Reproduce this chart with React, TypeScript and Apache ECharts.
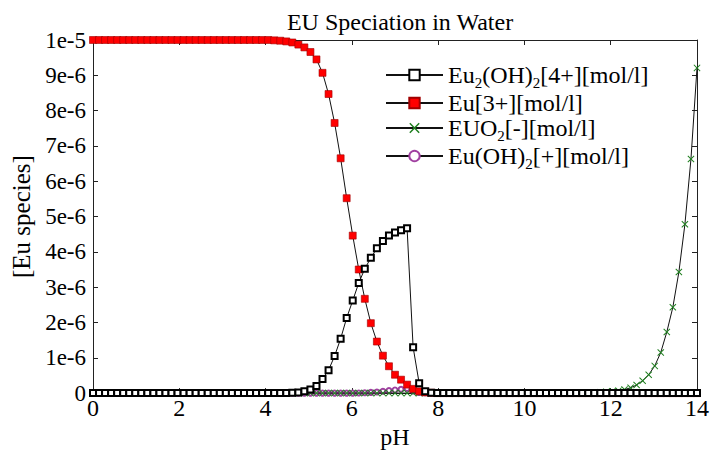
import React, { useEffect, useRef } from "react";
import * as echarts from "echarts";

// pH grid (x values of every computed point)
const pH = [
  0, 0.14, 0.28, 0.42, 0.56, 0.7, 0.84, 0.98, 1.12, 1.26,
  1.4, 1.54, 1.68, 1.82, 1.96, 2.1, 2.24, 2.38, 2.52, 2.66,
  2.8, 2.94, 3.08, 3.22, 3.36, 3.5, 3.64, 3.78, 3.92, 4.06,
  4.2, 4.34, 4.48, 4.62, 4.76, 4.9, 5.04, 5.18, 5.32, 5.46,
  5.6, 5.74, 5.88, 6.02, 6.16, 6.3, 6.44, 6.58, 6.72, 6.86,
  7, 7.14, 7.28, 7.42, 7.56, 7.7, 7.84, 7.98, 8.12, 8.26,
  8.4, 8.54, 8.68, 8.82, 8.96, 9.1, 9.24, 9.38, 9.52, 9.66,
  9.8, 9.94, 10.08, 10.22, 10.36, 10.5, 10.64, 10.78, 10.92, 11.06,
  11.2, 11.34, 11.48, 11.62, 11.76, 11.9, 12.04, 12.18, 12.32, 12.46,
  12.6, 12.74, 12.88, 13.02, 13.16, 13.3, 13.44, 13.58, 13.72, 13.86,
  14,
];

// concentrations in units of 1e-6 mol/l
const eu2oh2 = [
  0, 0, 0, 0, 0, 0, 0, 0, 0, 0,
  0, 0, 0, 0, 0, 0, 0, 0, 0, 0,
  0, 0, 0, 0, 0, 0, 0, 0, 0, 0,
  0, 0, 0.005, 0.01, 0.02, 0.05, 0.1, 0.2, 0.4, 0.65,
  1.05, 1.54, 2.13, 2.62, 3.12, 3.52, 3.83, 4.1, 4.31, 4.46,
  4.55, 4.61, 4.67, 1.3, 0.28, 0.05, 0.01, 0, 0, 0,
  0, 0, 0, 0, 0, 0, 0, 0, 0, 0,
  0, 0, 0, 0, 0, 0, 0, 0, 0, 0,
  0, 0, 0, 0, 0, 0, 0, 0, 0, 0,
  0, 0, 0, 0, 0, 0, 0, 0, 0, 0,
  0,
];

const eu3 = [
  10, 10, 10, 10, 10, 10, 10, 10, 10, 10,
  10, 10, 10, 10, 10, 10, 10, 10, 10, 10,
  10, 10, 10, 10, 10, 10, 10, 10, 10, 10,
  9.99, 9.98, 9.96, 9.93, 9.87, 9.79, 9.66, 9.45, 9.07, 8.47,
  7.65, 6.65, 5.52, 4.46, 3.5, 2.67, 1.98, 1.46, 1.06, 0.76,
  0.52, 0.38, 0.24, 0.12, 0.05, 0.02, 0.01, 0, 0, 0,
  0, 0, 0, 0, 0, 0, 0, 0, 0, 0,
  0, 0, 0, 0, 0, 0, 0, 0, 0, 0,
  0, 0, 0, 0, 0, 0, 0, 0, 0, 0,
  0, 0, 0, 0, 0, 0, 0, 0, 0, 0,
  0,
];

const euo2 = [
  0, 0, 0, 0, 0, 0, 0, 0, 0, 0,
  0, 0, 0, 0, 0, 0, 0, 0, 0, 0,
  0, 0, 0, 0, 0, 0, 0, 0, 0, 0,
  0, 0, 0, 0, 0, 0, 0, 0, 0, 0,
  0, 0, 0, 0, 0, 0, 0, 0, 0, 0,
  0, 0, 0, 0, 0, 0, 0, 0, 0, 0,
  0, 0, 0, 0, 0, 0, 0, 0, 0, 0,
  0, 0, 0, 0, 0, 0, 0, 0, 0.003, 0.004,
  0.006, 0.008, 0.012, 0.018, 0.025, 0.035, 0.05, 0.07, 0.1, 0.15,
  0.23, 0.35, 0.52, 0.77, 1.15, 1.73, 2.43, 3.43, 4.78, 6.63,
  9.21,
];

const euoh2 = [
  0, 0, 0, 0, 0, 0, 0, 0, 0, 0,
  0, 0, 0, 0, 0, 0, 0, 0, 0, 0,
  0, 0, 0, 0, 0, 0, 0, 0, 0, 0,
  0, 0, 0, 0, 0, 0, 0, 0, 0, 0,
  0, 0, 0, 0, 0.005, 0.01, 0.02, 0.03, 0.05, 0.07,
  0.09, 0.11, 0.13, 0.06, 0.02, 0.01, 0.005, 0, 0, 0,
  0, 0, 0, 0, 0, 0, 0, 0, 0, 0,
  0, 0, 0, 0, 0, 0, 0, 0, 0, 0,
  0, 0, 0, 0, 0, 0, 0, 0, 0, 0,
  0, 0, 0, 0, 0, 0, 0, 0, 0, 0,
  0,
];

const seriesNames = [
  "Eu2(OH)2[4+][mol/l]",
  "Eu[3+][mol/l]",
  "EUO2[-][mol/l]",
  "Eu(OH)2[+][mol/l]",
];
const legendRich = [
  "{n|Eu}{s|2}{n|(OH)}{s|2}{n|[4+][mol/l]}",
  "{n|Eu[3+][mol/l]}",
  "{n|EUO}{s|2}{n|[-][mol/l]}",
  "{n|Eu(OH)}{s|2}{n|[+][mol/l]}",
];
const yTickLabels = ["0", "1e-6", "2e-6", "3e-6", "4e-6", "5e-6", "6e-6", "7e-6", "8e-6", "9e-6", "1e-5"];
const titleText = "EU Speciation in Water";
const xName = "pH";
const yName = "[Eu species]";

const FONT = "Liberation Serif";
const AXIS_COLOR = "#222";
const X_SYMBOL = "path://M0,1L1,0L5,4L9,0L10,1L6,5L10,9L9,10L5,6L1,10L0,9L4,5Z";

export default function App() {
  const ref = useRef<HTMLDivElement>(null);
  useEffect(() => {
    if (!ref.current) return;
    const chart = echarts.init(ref.current, undefined, { renderer: "svg" });
    const pairs = (arr: number[]) => pH.map((x, i) => [x, arr[i]]);
    const axisLine = { show: true, onZero: false, lineStyle: { color: AXIS_COLOR, width: 1 } };
    const tick = { show: true, inside: true, length: 5, lineStyle: { color: AXIS_COLOR } };
    const baseLine = { color: "#111", width: 1 };
    chart.setOption({
      animation: false,
      title: {
        text: titleText,
        left: 395,
        top: 5,
        textAlign: "center",
        textStyle: { fontFamily: FONT, fontSize: 24, fontWeight: "normal", color: "#000" },
      },
      legend: {
        orient: "vertical",
        left: 380,
        top: 58,
        itemWidth: 57,
        itemHeight: 13,
        itemGap: 1,
        data: seriesNames,
        lineStyle: { width: 2 },
        formatter: (name: string) => legendRich[seriesNames.indexOf(name)],
        textStyle: {
          fontFamily: FONT,
          fontSize: 24,
          color: "#000",
          rich: {
            n: { fontFamily: FONT, fontSize: 24, color: "#000", lineHeight: 30 },
            s: { fontFamily: FONT, fontSize: 15, color: "#000", lineHeight: 14, verticalAlign: "bottom" },
          },
        },
      },
      grid: { left: 93, right: 16, top: 40, bottom: 43, containLabel: false },
      xAxis: [
        {
          type: "value",
          min: 0,
          max: 14,
          interval: 2,
          position: "bottom",
          axisLine,
          axisTick: tick,
          splitLine: { show: false },
          axisLabel: { fontFamily: FONT, fontSize: 24, color: "#000", margin: 3 },
          name: xName,
          nameLocation: "middle",
          nameGap: 20,
          nameTextStyle: { fontFamily: FONT, fontSize: 24, color: "#000" },
        },
        {
          type: "value",
          min: 0,
          max: 14,
          interval: 2,
          position: "top",
          axisLine,
          axisTick: tick,
          splitLine: { show: false },
          axisLabel: { show: false },
        },
      ],
      yAxis: [
        {
          type: "value",
          min: 0,
          max: 10,
          interval: 1,
          position: "left",
          axisLine,
          axisTick: tick,
          splitLine: { show: false },
          axisLabel: {
            fontFamily: FONT,
            fontSize: 23,
            color: "#000",
            margin: 7,
            formatter: (v: number) => yTickLabels[Math.round(v)],
          },
          name: yName,
          nameLocation: "middle",
          nameRotate: 90,
          nameGap: 55,
          nameTextStyle: { fontFamily: FONT, fontSize: 25, color: "#000" },
        },
        {
          type: "value",
          min: 0,
          max: 10,
          interval: 1,
          position: "right",
          axisLine,
          axisTick: tick,
          splitLine: { show: false },
          axisLabel: { show: false },
        },
      ],
      series: [
        {
          name: seriesNames[0],
          type: "line",
          data: pairs(eu2oh2),
          symbol: "emptyRect",
          symbolSize: 6,
          clip: false,
          lineStyle: baseLine,
          itemStyle: { color: "#000", borderWidth: 1 },
          z: 5,
        },
        {
          name: seriesNames[1],
          type: "line",
          data: pairs(eu3),
          symbol: "rect",
          symbolSize: 7,
          clip: false,
          lineStyle: baseLine,
          itemStyle: { color: "#ff0000", borderColor: "#a00000", borderWidth: 0.6 },
          z: 4,
        },
        {
          name: seriesNames[2],
          type: "line",
          data: pairs(euo2),
          symbol: X_SYMBOL,
          symbolSize: 7,
          clip: false,
          lineStyle: baseLine,
          itemStyle: { color: "#1f7f1f" },
          z: 3,
        },
        {
          name: seriesNames[3],
          type: "line",
          data: pairs(euoh2),
          symbol: "emptyCircle",
          symbolSize: 5,
          clip: false,
          lineStyle: baseLine,
          itemStyle: { color: "#a040a0", borderWidth: 1 },
          z: 2,
        },
      ],
    });
    return () => chart.dispose();
  }, []);
  return (
    <div
      ref={ref}
      style={{ position: "absolute", left: 0, top: 0, width: 713, height: 454, background: "#fff" }}
    />
  );
}
